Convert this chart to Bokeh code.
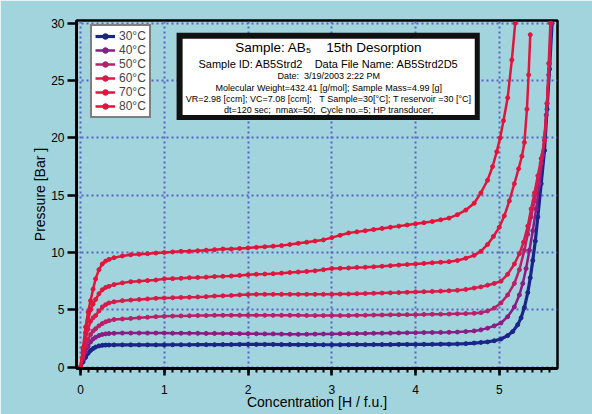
from bokeh.plotting import figure
from bokeh.models import (ColumnDataSource, SingleIntervalTicker, Range1d, Legend,
                          LegendItem, Label, BoxAnnotation)
from bokeh.embed import file_html
from bokeh.resources import INLINE

# ---------------- data ----------------
series_names = ["30°C", "40°C", "50°C", "60°C", "70°C", "80°C"]
series_colors = ["#1b2589", "#8a1c85", "#b8216a", "#d91a48", "#e0163e", "#e2143a"]

conc_rise = [0, 0.03, 0.06, 0.09, 0.12, 0.15, 0.18, 0.22, 0.26, 0.3, 0.34]
conc_mid = [0.4, 0.5, 0.6, 0.7, 0.8, 0.9, 1.0,
            1.1, 1.2, 1.3, 1.4, 1.5, 1.6, 1.7, 1.8, 1.9, 2.0,
            2.1, 2.2, 2.3, 2.4, 2.5, 2.6, 2.7, 2.8, 2.9, 3.0,
            3.1, 3.2, 3.3, 3.4, 3.5, 3.6, 3.7, 3.8, 3.9, 4.0,
            4.1, 4.2, 4.3, 4.4, 4.5, 4.6, 4.7]

p30_rise = [0, 0.45, 0.85, 1.2, 1.45, 1.62, 1.75, 1.85, 1.9, 1.92, 1.93]
p30_mid = [1.94, 1.94, 1.94, 1.94, 1.94, 1.94, 1.94,
           1.95, 1.95, 1.95, 1.96, 1.96, 1.96, 1.97, 1.97, 1.98, 1.98,
           1.98, 1.98, 1.98, 1.97, 1.97, 1.96, 1.96, 1.96, 1.95, 1.95,
           1.95, 1.96, 1.96, 1.96, 1.97, 1.97, 1.97, 1.98, 1.98, 1.98,
           1.99, 1.99, 2.0, 2.0, 2.02, 2.05, 2.1]
c30_tail = [4.78, 4.86, 4.94, 5.02, 5.1, 5.16, 5.22, 5.26, 5.3, 5.34, 5.37, 5.4,
            5.43, 5.46, 5.5, 5.54, 5.57, 5.6, 5.63]
p30_tail = [2.15, 2.2, 2.3, 2.45, 2.75, 3.1, 3.7, 4.3, 5.2, 6.5, 7.8, 9.3,
            11.0, 13.1, 16.0, 18.9, 22.5, 26.0, 30.0]

p40_rise = [0, 0.7, 1.3, 1.8, 2.2, 2.45, 2.6, 2.75, 2.85, 2.9, 2.93]
p40_mid = [2.95, 2.97, 2.97, 2.97, 2.97, 2.97, 2.97,
           2.96, 2.96, 2.95, 2.95, 2.94, 2.94, 2.93, 2.93, 2.92, 2.92,
           2.91, 2.9, 2.9, 2.88, 2.87, 2.86, 2.87, 2.88, 2.89, 2.9,
           2.91, 2.92, 2.93, 2.94, 2.95, 2.96, 2.97, 2.98, 2.99, 3.0,
           3.01, 3.02, 3.03, 3.04, 3.06, 3.1, 3.16]
c40_tail = [4.78, 4.86, 4.94, 5.02, 5.1, 5.18, 5.24, 5.28, 5.32, 5.36, 5.4, 5.44,
            5.48, 5.52, 5.56, 5.59, 5.62]
p40_tail = [3.25, 3.4, 3.6, 3.85, 4.4, 5.25, 6.3, 7.3, 8.6, 10.2, 11.9, 13.8,
            16.0, 18.5, 22.0, 25.5, 30.0]

p50_rise = [0, 0.9, 1.8, 2.4, 2.85, 3.15, 3.35, 3.6, 3.8, 3.95, 4.05]
p50_mid = [4.15, 4.2, 4.25, 4.3, 4.35, 4.4, 4.43,
           4.45, 4.47, 4.48, 4.5, 4.5, 4.52, 4.52, 4.52, 4.52, 4.52,
           4.52, 4.52, 4.52, 4.52, 4.52, 4.52, 4.51, 4.5, 4.5, 4.5,
           4.5, 4.5, 4.52, 4.53, 4.54, 4.55, 4.56, 4.57, 4.58, 4.58,
           4.6, 4.61, 4.62, 4.63, 4.65, 4.67, 4.7]
c50_tail = [4.78, 4.86, 4.94, 5.02, 5.1, 5.18, 5.24, 5.3, 5.34, 5.38, 5.42, 5.46,
            5.5, 5.54, 5.57, 5.6, 5.62]
p50_tail = [4.75, 4.9, 5.15, 5.6, 6.3, 7.3, 8.5, 10.2, 11.6, 13.1, 14.5, 16.0,
            17.8, 19.8, 23.0, 26.5, 30.0]

p60_rise = [0, 1.2, 2.4, 3.3, 4.0, 4.3, 4.5, 4.9, 5.25, 5.45, 5.6]
p60_mid = [5.7, 5.8, 5.85, 5.9, 5.95, 6.0, 6.03,
           6.05, 6.08, 6.1, 6.12, 6.15, 6.2, 6.22, 6.25, 6.3, 6.33,
           6.35, 6.35, 6.35, 6.35, 6.35, 6.35, 6.35, 6.35, 6.35, 6.35,
           6.37, 6.38, 6.4, 6.42, 6.44, 6.46, 6.48, 6.5, 6.53, 6.56,
           6.58, 6.6, 6.63, 6.66, 6.7, 6.78, 6.9]
c60_tail = [4.78, 4.86, 4.94, 5.02, 5.1, 5.18, 5.24, 5.29, 5.34, 5.38, 5.42, 5.46,
            5.5, 5.54, 5.57, 5.59, 5.61]
p60_tail = [7.0, 7.15, 7.3, 7.5, 8.1, 9.0, 9.9, 10.9, 12.3, 13.8, 15.2, 16.7,
            18.2, 19.8, 23.0, 26.5, 30.0]

p70_rise = [0, 1.5, 3.0, 4.1, 5.0, 5.5, 5.9, 6.4, 6.75, 6.95, 7.05]
p70_mid = [7.2, 7.35, 7.45, 7.5, 7.55, 7.6, 7.7,
           7.72, 7.75, 7.8, 7.82, 7.85, 7.9, 7.92, 7.95, 8.0, 8.05,
           8.1, 8.12, 8.15, 8.2, 8.25, 8.3, 8.35, 8.4, 8.5, 8.6,
           8.62, 8.65, 8.7, 8.72, 8.75, 8.8, 8.85, 8.9, 8.95, 9.0,
           9.05, 9.1, 9.15, 9.2, 9.3, 9.5, 9.75]
c70_tail = [4.78, 4.86, 4.93, 5.0, 5.06, 5.12, 5.18, 5.23, 5.27, 5.3, 5.33, 5.35, 5.37]
p70_tail = [10.1, 10.7, 11.4, 12.2, 13.2, 14.5, 16.0, 17.3, 18.4, 19.6, 22.5, 25.5, 29.0]

p80_rise = [0, 1.7, 3.5, 4.8, 5.8, 6.8, 7.7, 8.5, 9.0, 9.25, 9.4]
p80_mid = [9.55, 9.7, 9.8, 9.85, 9.9, 9.95, 10.0,
           10.05, 10.1, 10.1, 10.15, 10.2, 10.25, 10.3, 10.3, 10.35, 10.4,
           10.45, 10.5, 10.55, 10.6, 10.7, 10.8, 10.9, 11.0, 11.1, 11.3,
           11.5, 11.7, 11.8, 11.9, 12.0, 12.1, 12.2, 12.3, 12.4, 12.5,
           12.6, 12.7, 12.85, 13.0, 13.3, 13.7, 14.3]
c80_tail = [4.78, 4.86, 4.92, 4.97, 5.01, 5.05, 5.1, 5.15, 5.19]
p80_tail = [15.2, 16.3, 17.5, 18.8, 20.0, 21.5, 23.5, 26.8, 30.0]

x_ticks_interval = 1
y_ticks_interval = 5

NB = "\u00a0"
info_lines = [
    "Sample: AB\u2085" + NB * 4 + "15th Desorption",
    "Sample ID: AB5Strd2" + NB * 4 + "Data File Name: AB5Strd2D5",
    "Date:" + NB * 2 + "3/19/2003 2:22 PM",
    "Molecular Weight=432.41 [g/mol]; Sample Mass=4.99 [g]",
    "VR=2.98 [ccm]; VC=7.08 [ccm];" + NB * 3 + "T Sample=30[\u00b0C]; T reservoir =30 [\u00b0C]",
    "dt=120 sec;" + NB * 2 + "nmax=50;" + NB * 2 + "Cycle no.=5; HP transducer;",
]

# ---------------- styling ----------------
TEAL = "#a1d4dc"
GRID = "#5c62c4"
FONT = "Liberation Sans"

series_c = [conc_rise + conc_mid + c30_tail, conc_rise + conc_mid + c40_tail,
            conc_rise + conc_mid + c50_tail, conc_rise + conc_mid + c60_tail,
            conc_rise + conc_mid + c70_tail, conc_rise + conc_mid + c80_tail]
series_p = [p30_rise + p30_mid + p30_tail, p40_rise + p40_mid + p40_tail,
            p50_rise + p50_mid + p50_tail, p60_rise + p60_mid + p60_tail,
            p70_rise + p70_mid + p70_tail, p80_rise + p80_mid + p80_tail]
for cc, pp in zip(series_c, series_p):
    assert len(cc) == len(pp), (len(cc), len(pp))

p = figure(width=592, height=414,
           x_range=Range1d(-0.048, 5.695), y_range=Range1d(-0.12, 30.24),
           output_backend="svg", toolbar_location=None,
           min_border_left=76, min_border_right=35, min_border_top=20, min_border_bottom=46,
           background_fill_color=TEAL, border_fill_color=TEAL,
           outline_line_color="black", outline_line_width=2.5)

p.xaxis.ticker = SingleIntervalTicker(interval=x_ticks_interval, num_minor_ticks=10)
p.yaxis.ticker = SingleIntervalTicker(interval=y_ticks_interval, num_minor_ticks=0)
p.xgrid.ticker = p.xaxis.ticker
p.ygrid.ticker = p.yaxis.ticker
for g in (p.xgrid, p.ygrid):
    g.grid_line_color = GRID
    g.grid_line_width = 2
    g.grid_line_dash = "2 3"

for ax in (p.xaxis, p.yaxis):
    ax.axis_line_color = "black"
    ax.axis_line_width = 3
    ax.major_tick_line_color = "black"
    ax.major_tick_line_width = 2.5
    ax.major_tick_in = 0
    ax.minor_tick_in = 0
    ax.major_label_text_font = FONT
    ax.major_label_text_font_size = "12px"
    ax.major_label_text_color = "black"
    ax.axis_label_text_font = FONT
    ax.axis_label_text_font_style = "normal"
    ax.axis_label_text_color = "black"
    ax.axis_label_text_font_size = "14px"

p.xaxis.major_tick_out = 7
p.yaxis.major_tick_out = 9
p.xaxis.minor_tick_line_color = "black"
p.xaxis.minor_tick_line_width = 2
p.xaxis.minor_tick_out = 4
p.yaxis.minor_tick_line_color = None
p.xaxis.major_label_standoff = 9
p.xaxis.axis_label_standoff = -3
p.yaxis.major_label_standoff = 3
p.yaxis.axis_label_standoff = 0
p.xaxis.axis_label = "Concentration [H / f.u.]"
p.yaxis.axis_label = "Pressure [Bar ]"

# curves
curve_renderers = []
for cc, pp, col in zip(series_c, series_p, series_colors):
    src = ColumnDataSource(dict(c=cc, p=pp))
    lw = 3.2 if col == series_colors[0] else 2.5
    r1 = p.line("c", "p", source=src, line_color=col, line_width=lw)
    r2 = p.scatter("c", "p", source=src, marker="circle", size=4,
                   fill_color=col, line_color=col)
    curve_renderers.append((r1, r2))

items = [LegendItem(label=name, renderers=[r1, r2])
         for name, (r1, r2) in zip(series_names, curve_renderers)]

legend = Legend(items=items, location=(14, 250), orientation="vertical",
                background_fill_color="white", background_fill_alpha=1,
                border_line_color="black", border_line_width=2.5,
                label_text_font=FONT, label_text_font_size="12px",
                label_height=13, glyph_height=14, glyph_width=20,
                spacing=0, padding=3, margin=0, label_standoff=4)
p.add_layout(legend)

# info box
p.add_layout(BoxAnnotation(left=1.147, right=4.767, top=29.17, bottom=21.57,
                           fill_color="#111111", fill_alpha=1, line_color=None))
p.add_layout(BoxAnnotation(left=1.219, right=4.707, top=28.64, bottom=22.0,
                           fill_color="white", fill_alpha=1, line_color=None))
info_y = [27.9, 26.42, 25.38, 24.38, 23.4, 22.45]
info_size = ["13.5px", "11px", "9px", "9px", "9px", "9px"]
for txt, yy, fs in zip(info_lines, info_y, info_size):
    p.add_layout(Label(x=2.963, y=yy, text=txt, text_align="center",
                       text_baseline="middle", text_font=FONT,
                       text_font_size=fs, text_color="black"))

p.add_layout(Label(x=5.11, y=-3.17, text="\u00a9Hy-Energy 2003", text_align="left",
                   text_baseline="middle", text_font=FONT, text_font_size="7px",
                   text_color="black"))

# outer page frame of the original figure
p.add_layout(BoxAnnotation(left=0, right=3, top=0, bottom=414,
                           left_units="canvas", right_units="canvas",
                           top_units="canvas", bottom_units="canvas",
                           fill_color="white", fill_alpha=1, line_color=None))
p.add_layout(BoxAnnotation(left=0, right=592, top=0, bottom=5,
                           left_units="canvas", right_units="canvas",
                           top_units="canvas", bottom_units="canvas",
                           fill_color="white", fill_alpha=1, line_color=None))
p.add_layout(BoxAnnotation(left=4, right=600, top=6.5, bottom=412.5,
                           left_units="canvas", right_units="canvas",
                           top_units="canvas", bottom_units="canvas",
                           fill_alpha=0, line_color="#2d2d2d", line_width=2.5))

open("out.html", "w").write(file_html(p, INLINE))
